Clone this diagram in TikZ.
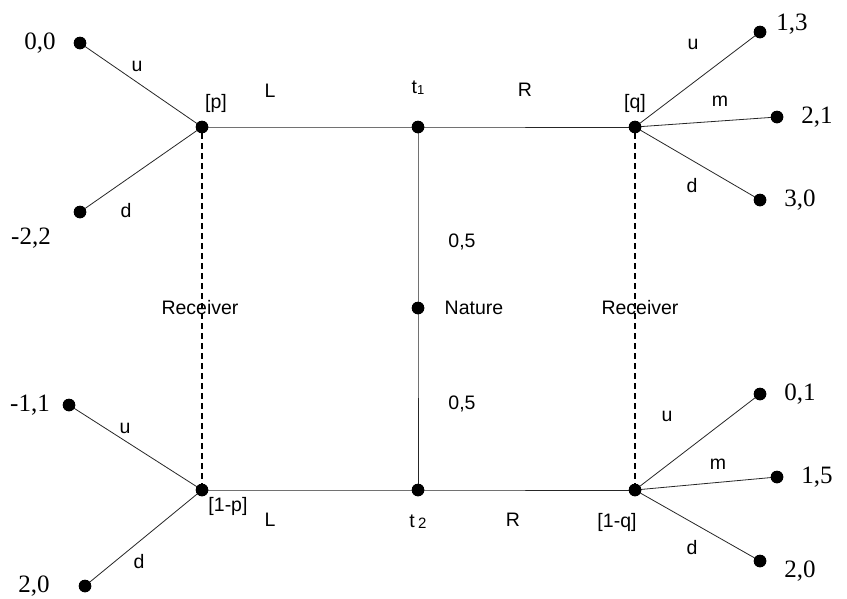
\documentclass[tikz,border=0pt]{standalone}
\usepackage{fontspec}
\setmainfont{Liberation Serif}
\setsansfont{Liberation Sans}
\begin{document}
\begin{tikzpicture}[x=1pt,y=-1pt,
  dot/.style={circle,fill=black,inner sep=0pt,minimum size=12.5pt},
  lab/.style={font=\sffamily\fontsize{19.5}{22}\selectfont,inner sep=0pt},
  pay/.style={font=\fontsize{25}{28}\selectfont,inner sep=0pt},
  edge/.style={line width=0.8pt,draw=black!85},
  info/.style={line width=2.3pt,dash pattern=on 6pt off 4pt}]
\useasboundingbox (0,0) rectangle (847,598);
% decision nodes
\node[dot] (p)   at (202,127) {};
\node[dot] (t1)  at (418,127) {};
\node[dot] (q)   at (635,127) {};
\node[dot] (nat) at (418,308) {};
\node[dot] (p2)  at (202,490) {};
\node[dot] (t2)  at (418,490) {};
\node[dot] (q2)  at (635,490) {};
% terminal nodes
\node[dot] (a1) at (80,43) {};
\node[dot] (a2) at (80,212) {};
\node[dot] (b1) at (760,32) {};
\node[dot] (b2) at (777,117) {};
\node[dot] (b3) at (760,200) {};
\node[dot] (c1) at (69,405) {};
\node[dot] (c2) at (85,586) {};
\node[dot] (d1) at (760,394) {};
\node[dot] (d2) at (777,477) {};
\node[dot] (d3) at (760,561) {};
% labels
\node[lab] (recl) at (200,308) {Receiver};
\node[lab] (recr) at (640,308) {Receiver};
\node[lab] (natl) at (474,308) {Nature};
\node[lab] (h1) at (462,242) {0,5};
\node[lab] (h2) at (462,404) {0,5};
\node[lab] (lt1) at (418,88) {t\raisebox{-1pt}{\fontsize{13}{13}\selectfont 1}};
\node[lab] (lt2) at (418,522) {t\,\raisebox{-1pt}{\fontsize{15}{15}\selectfont 2}};
\node[lab] (lp) at (216,103) {[p]};
\node[lab] (lq) at (635,103) {[q]};
\node[lab] (lp2) at (228,506) {[1-p]};
\node[lab] (lq2) at (617,522) {[1-q]};
\node[lab] (L1) at (270,91) {L};
\node[lab] (R1) at (525,90) {R};
\node[lab] (L2) at (270,520) {L};
\node[lab] (R2) at (513,520) {R};
\node[lab] (u1) at (137,66) {u};
\node[lab] (d1l) at (126,211) {d};
\node[lab] (u2) at (125,428) {u};
\node[lab] (d2l) at (139,562) {d};
\node[lab] (u3) at (693,44) {u};
\node[lab] (m3) at (720,101) {m};
\node[lab] (d3l) at (692,186) {d};
\node[lab] (u4) at (667,416) {u};
\node[lab] (m4) at (718,464) {m};
\node[lab] (d4l) at (692,548) {d};
% payoffs
\node[pay] (pa1) at (40,43) {0,0};
\node[pay] (pa2) at (31,238) {-2,2};
\node[pay] (pb1) at (792,24) {1,3};
\node[pay] (pb2) at (817,117) {2,1};
\node[pay] (pb3) at (800,200) {3,0};
\node[pay] (pc1) at (30,405) {-1,1};
\node[pay] (pc2) at (34,586) {2,0};
\node[pay] (pd1) at (800,394) {0,1};
\node[pay] (pd2) at (817,477) {1,5};
\node[pay] (pd3) at (800,571) {2,0};
% edges
\draw[edge] (p.center) -- (t1.center) -- (q.center);
\draw[edge] (p2.center) -- (t2.center) -- (q2.center);
\draw[edge] (t1.center) -- (nat.center) -- (t2.center);
\draw[edge] (p.center) -- (a1.center);
\draw[edge] (p.center) -- (a2.center);
\draw[edge] (p2.center) -- (c1.center);
\draw[edge] (p2.center) -- (c2.center);
\draw[edge] (q.center) -- (b1.center);
\draw[edge] (q.center) -- (b2.center);
\draw[edge] (q.center) -- (b3.center);
\draw[edge] (q2.center) -- (d1.center);
\draw[edge] (q2.center) -- (d2.center);
\draw[edge] (q2.center) -- (d3.center);
\draw[info] (p) -- (p2);
\draw[info] (q) -- (q2);
% redraw dots on top
\foreach \n in {p,t1,q,nat,p2,t2,q2,a1,a2,b1,b2,b3,c1,c2,d1,d2,d3}
  \fill (\n) circle (6.25pt);
\end{tikzpicture}
\end{document}
